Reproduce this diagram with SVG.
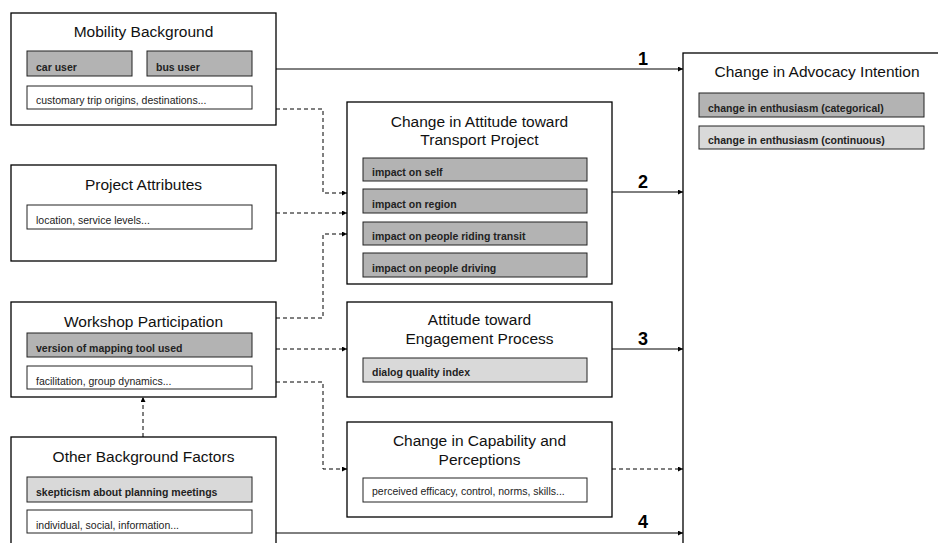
<svg xmlns="http://www.w3.org/2000/svg" width="938" height="543" viewBox="0 0 938 543">
<defs>
<marker id="ah" viewBox="0 0 6 6" refX="6" refY="3" markerWidth="5" markerHeight="5" orient="auto" markerUnits="userSpaceOnUse">
<path d="M0,0 L6,3 L0,6 Z" fill="#000"/>
</marker>
<style>
.box{fill:#fff;stroke:#000;stroke-width:1.3}
.dk{fill:#b3b3b3;stroke:#222;stroke-width:1}
.lt{fill:#d9d9d9;stroke:#222;stroke-width:1}
.wh{fill:#fff;stroke:#222;stroke-width:1}
.ttl{font-family:"Liberation Sans",Arial,sans-serif;font-size:15.5px;fill:#111;text-anchor:middle}
.b{font-family:"Liberation Sans",Arial,sans-serif;font-size:10.5px;font-weight:bold;fill:#222}
.r{font-family:"Liberation Sans",Arial,sans-serif;font-size:10.5px;fill:#222}
.num{font-family:"Liberation Sans",Arial,sans-serif;font-size:18px;font-weight:bold;fill:#000;text-anchor:middle}
.s{fill:none;stroke:#000;stroke-width:1}
.d{fill:none;stroke:#000;stroke-width:1;stroke-dasharray:4,3}
</style>
</defs>
<rect width="938" height="543" fill="#fff"/>

<g id="mobility">
<rect class="box" x="11" y="13" width="265" height="112"/>
<text class="ttl" x="143.5" y="37">Mobility Background</text>
<rect class="dk" x="27" y="51" width="105" height="25"/>
<text class="b" x="36" y="71">car user</text>
<rect class="dk" x="147" y="51" width="105" height="25"/>
<text class="b" x="156" y="71">bus user</text>
<rect class="wh" x="27" y="86" width="225" height="23"/>
<text class="r" x="36" y="104">customary trip origins, destinations...</text>
</g>

<g id="project">
<rect class="box" x="11" y="165" width="265" height="96"/>
<text class="ttl" x="143.5" y="190">Project Attributes</text>
<rect class="wh" x="27" y="205" width="225" height="24"/>
<text class="r" x="36" y="224">location, service levels...</text>
</g>

<g id="workshop">
<rect class="box" x="11" y="302" width="265" height="95"/>
<text class="ttl" x="143.5" y="327">Workshop Participation</text>
<rect class="dk" x="27" y="333" width="225" height="24"/>
<text class="b" x="36" y="352">version of mapping tool used</text>
<rect class="wh" x="27" y="366" width="225" height="23"/>
<text class="r" x="36" y="385">facilitation, group dynamics...</text>
</g>

<g id="other">
<rect class="box" x="11" y="437" width="265" height="130"/>
<text class="ttl" x="143.5" y="462">Other Background Factors</text>
<rect class="lt" x="27" y="477" width="225" height="25"/>
<text class="b" x="36" y="496">skepticism about planning meetings</text>
<rect class="wh" x="27" y="510" width="225" height="23"/>
<text class="r" x="36" y="529">individual, social, information...</text>
</g>

<g id="attitude">
<rect class="box" x="347" y="102" width="265" height="182"/>
<text class="ttl" x="479.5" y="127">Change in Attitude toward</text>
<text class="ttl" x="479.5" y="145">Transport Project</text>
<rect class="dk" x="363" y="158" width="224" height="23"/>
<text class="b" x="372" y="176">impact on self</text>
<rect class="dk" x="363" y="189" width="224" height="24"/>
<text class="b" x="372" y="208">impact on region</text>
<rect class="dk" x="363" y="222" width="224" height="23"/>
<text class="b" x="372" y="240">impact on people riding transit</text>
<rect class="dk" x="363" y="253" width="224" height="24"/>
<text class="b" x="372" y="272">impact on people driving</text>
</g>

<g id="engagement">
<rect class="box" x="347" y="302" width="265" height="95"/>
<text class="ttl" x="479.5" y="325">Attitude toward</text>
<text class="ttl" x="479.5" y="344">Engagement Process</text>
<rect class="lt" x="363" y="358" width="224" height="24"/>
<text class="b" x="372" y="376">dialog quality index</text>
</g>

<g id="capability">
<rect class="box" x="347" y="422" width="265" height="95"/>
<text class="ttl" x="479.5" y="446">Change in Capability and</text>
<text class="ttl" x="479.5" y="465">Perceptions</text>
<rect class="wh" x="363" y="478" width="224" height="24"/>
<text class="r" x="372" y="495">perceived efficacy, control, norms, skills...</text>
</g>

<g id="advocacy">
<rect class="box" x="683" y="53" width="300" height="520"/>
<text class="ttl" x="817" y="77">Change in Advocacy Intention</text>
<rect class="dk" x="699" y="93" width="225" height="24"/>
<text class="b" x="708" y="112">change in enthusiasm (categorical)</text>
<rect class="lt" x="699" y="126" width="225" height="23"/>
<text class="b" x="708" y="144">change in enthusiasm (continuous)</text>
</g>

<g id="connectors">
<path class="s" d="M276,69 H683" marker-end="url(#ah)"/>
<path class="s" d="M612,192 H683" marker-end="url(#ah)"/>
<path class="s" d="M612,349 H683" marker-end="url(#ah)"/>
<path class="d" d="M612,469 H683" marker-end="url(#ah)"/>
<path class="s" d="M276,533 H683" marker-end="url(#ah)"/>
<path class="d" d="M276,109 H323 V193 H347" marker-end="url(#ah)"/>
<path class="d" d="M276,213 H347" marker-end="url(#ah)"/>
<path class="d" d="M276,318 H323 V234 H347" marker-end="url(#ah)"/>
<path class="d" d="M276,349 H347" marker-end="url(#ah)"/>
<path class="d" d="M276,382 H323 V469 H347" marker-end="url(#ah)"/>
<path class="d" d="M143,437 V397" marker-end="url(#ah)"/>
<text class="num" x="643" y="65">1</text>
<text class="num" x="643" y="188">2</text>
<text class="num" x="643" y="345">3</text>
<text class="num" x="643" y="528">4</text>
</g>
</svg>
